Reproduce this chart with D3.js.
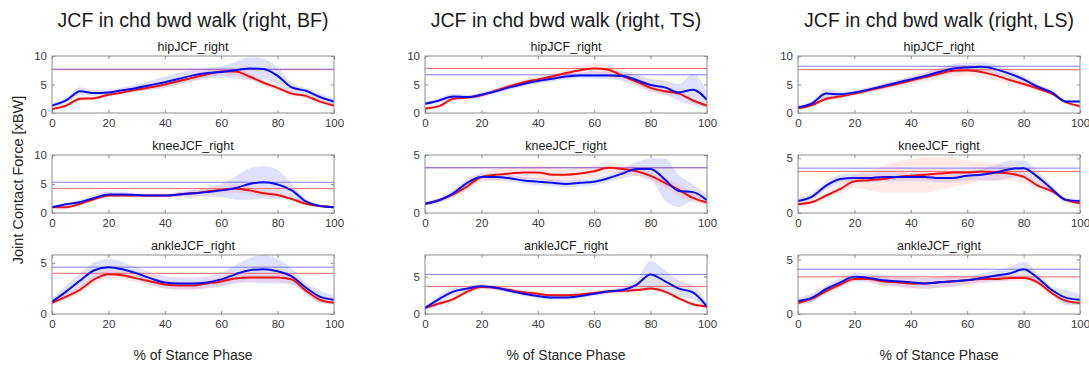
<!DOCTYPE html>
<html>
<head>
<meta charset="utf-8">
<script src="https://cdn.jsdelivr.net/npm/d3@7"></script>
<style>
body{margin:0;background:#fff;}
svg{display:block;font-family:"Liberation Sans",Arial,sans-serif;}
</style>
</head>
<body>
<svg id="chart" width="1089" height="367"></svg>
<script>
// ---------- DATA ----------
const stance = [0,5,10,15,20,25,30,35,40,45,50,55,60,65,70,75,80,85,90,95,100];
const xTicks = [0,20,40,60,80,100];
const conditions = ["BF","TS","LS"];
const joints = ["hipJCF_right","kneeJCF_right","ankleJCF_right"];

// BF
const bfHipBlue   = [1.3,2.2,3.8,3.5,3.6,4.0,4.4,4.9,5.4,6.0,6.6,7.0,7.2,7.5,7.8,7.7,6.5,4.5,3.9,2.8,2.0];
const bfHipBlueSd = [0.4,0.5,0.7,0.5,0.4,0.5,0.6,0.8,1.0,1.0,1.0,0.9,1.0,1.5,2.0,1.8,1.5,0.8,0.5,0.6,0.5];
const bfHipRed    = [0.7,1.3,2.5,2.6,3.2,3.6,4.1,4.5,5.0,5.6,6.2,6.8,7.3,7.3,6.4,5.3,4.4,3.4,3.0,2.0,1.3];
const bfHipRedSd  = [0.3,0.4,0.4,0.3,0.3,0.3,0.4,0.4,0.5,0.6,0.6,0.6,0.7,0.7,0.6,0.5,0.5,0.4,0.4,0.4,0.3];
const bfKneeBlue   = [1.0,1.5,1.9,2.6,3.2,3.2,3.1,3.0,3.0,3.2,3.4,3.6,3.9,4.3,5.0,5.3,4.9,3.9,2.0,1.2,1.0];
const bfKneeBlueSd = [0.2,0.3,0.4,0.5,0.5,0.4,0.3,0.3,0.3,0.4,0.6,0.8,1.2,2.0,2.7,2.8,2.5,1.2,0.4,0.2,0.2];
const bfKneeRed    = [1.0,1.0,1.6,2.4,3.0,3.0,3.0,3.0,3.0,3.2,3.4,3.7,4.0,4.2,3.9,3.4,3.1,2.4,1.6,1.2,1.0];
const bfKneeRedSd  = [0.2,0.3,0.3,0.3,0.3,0.3,0.3,0.3,0.3,0.4,0.5,0.6,0.7,0.7,0.6,0.5,0.4,0.4,0.3,0.2,0.2];
const bfAnkleBlue   = [1.2,2.2,3.3,4.3,4.6,4.4,4.0,3.5,3.1,3.0,3.0,3.1,3.4,3.9,4.3,4.4,4.2,3.7,2.6,1.7,1.4];
const bfAnkleBlueSd = [0.3,0.6,0.7,0.8,0.8,0.7,0.6,0.6,0.6,0.6,0.6,0.6,0.7,0.9,1.2,1.4,1.2,0.8,0.5,0.6,0.4];
const bfAnkleRed    = [1.1,1.7,2.4,3.4,3.9,3.8,3.5,3.2,2.9,2.8,2.8,3.0,3.2,3.5,3.6,3.6,3.6,3.4,2.3,1.4,1.1];
const bfAnkleRedSd  = [0.2,0.3,0.4,0.4,0.4,0.4,0.4,0.4,0.4,0.4,0.4,0.4,0.4,0.4,0.4,0.4,0.4,0.4,0.4,0.3,0.2];
// TS
const tsHipBlue   = [1.6,2.2,2.9,2.8,3.2,3.8,4.5,5.1,5.6,6.0,6.4,6.6,6.6,6.6,6.5,5.8,4.9,4.5,3.6,4.1,2.3];
const tsHipBlueSd = [0.4,0.4,0.5,0.4,0.4,0.4,0.4,0.4,0.4,0.5,0.5,0.5,0.6,0.7,0.8,0.9,1.1,1.2,1.5,2.8,1.5];
const tsHipRed    = [0.8,1.2,2.5,2.7,3.1,3.9,4.7,5.4,5.9,6.4,7.0,7.5,7.8,7.6,6.5,5.5,4.4,3.8,3.4,2.2,1.3];
const tsHipRedSd  = [0.3,0.3,0.4,0.4,0.4,0.5,0.5,0.5,0.6,0.6,0.7,0.8,0.9,0.9,0.9,0.8,0.7,0.6,0.5,0.4,0.3];
const tsKneeBlue   = [0.8,1.1,1.7,2.6,3.1,3.1,3.0,2.8,2.7,2.6,2.5,2.6,2.7,3.0,3.4,3.8,3.8,2.9,1.9,1.8,1.1];
const tsKneeBlueSd = [0.2,0.2,0.3,0.3,0.3,0.3,0.3,0.3,0.3,0.3,0.3,0.3,0.3,0.3,0.4,0.6,0.9,1.8,1.4,0.7,0.4];
const tsKneeRed    = [0.8,1.1,1.6,2.3,3.1,3.3,3.4,3.5,3.5,3.3,3.3,3.4,3.6,3.9,3.8,3.6,3.2,2.6,2.0,1.3,0.9];
const tsKneeRedSd  = [0.2,0.2,0.3,0.4,0.4,0.5,0.5,0.6,0.6,0.6,0.5,0.5,0.5,0.5,0.4,0.4,0.4,0.4,0.5,0.4,0.2];
const tsAnkleBlue   = [0.8,2.0,3.0,3.4,3.7,3.5,3.1,2.7,2.4,2.2,2.2,2.4,2.7,3.0,3.2,3.9,5.3,4.4,3.4,2.9,1.0];
const tsAnkleBlueSd = [0.3,0.5,0.5,0.4,0.3,0.3,0.3,0.3,0.3,0.3,0.3,0.3,0.3,0.3,0.4,0.7,1.8,1.5,1.1,1.0,0.4];
const tsAnkleRed    = [0.8,1.4,2.0,3.0,3.6,3.5,3.2,2.9,2.7,2.5,2.5,2.6,2.8,3.0,3.1,3.2,3.4,3.0,2.1,1.3,1.0];
const tsAnkleRedSd  = [0.2,0.3,0.3,0.3,0.3,0.3,0.3,0.3,0.3,0.3,0.3,0.3,0.3,0.3,0.3,0.3,0.3,0.3,0.3,0.3,0.2];
// LS
const lsHipBlue   = [1.0,1.7,3.4,3.3,3.6,4.1,4.7,5.3,5.9,6.5,7.2,7.8,8.0,8.1,7.7,6.9,5.9,4.6,3.6,2.0,2.0];
const lsHipBlueSd = [0.3,0.4,0.8,0.5,0.4,0.4,0.4,0.5,0.5,0.6,0.7,0.8,0.8,0.8,0.8,0.7,0.6,0.5,0.4,0.3,0.3];
const lsHipRed    = [0.8,1.4,2.5,2.9,3.4,4.0,4.5,5.1,5.7,6.3,6.9,7.4,7.5,7.2,6.6,5.8,5.1,4.3,3.4,1.9,1.2];
const lsHipRedSd  = [0.2,0.3,0.4,0.4,0.4,0.5,0.5,0.6,0.7,0.8,0.9,0.9,0.9,0.9,0.8,0.7,0.6,0.5,0.4,0.3,0.2];
const lsKneeBlue   = [1.1,1.5,2.5,3.1,3.2,3.2,3.3,3.3,3.3,3.3,3.2,3.2,3.4,3.5,3.7,4.0,4.1,3.3,2.2,1.2,1.1];
const lsKneeBlueSd = [0.3,0.3,0.4,0.4,0.4,0.4,0.4,0.4,0.4,0.4,0.4,0.4,0.4,0.5,0.7,0.8,0.7,0.5,0.3,0.2,0.2];
const lsKneeRed    = [0.8,1.0,1.6,2.2,2.9,3.0,3.1,3.3,3.4,3.5,3.6,3.7,3.7,3.8,3.7,3.6,3.3,2.5,2.0,1.2,0.9];
const lsKneeRedSd  = [0.2,0.2,0.3,0.4,0.6,0.9,1.2,1.4,1.5,1.6,1.5,1.3,1.1,0.9,0.8,0.6,0.5,0.4,0.3,0.2,0.2];
const lsAnkleBlue   = [1.2,1.5,2.3,2.9,3.4,3.3,3.1,3.0,2.9,2.8,2.9,3.0,3.1,3.3,3.5,3.7,4.1,3.3,2.2,1.5,1.3];
const lsAnkleBlueSd = [0.3,0.4,0.3,0.4,0.4,0.4,0.5,0.5,0.5,0.5,0.5,0.5,0.4,0.4,0.5,0.6,0.7,0.5,0.3,0.7,0.5];
const lsAnkleRed    = [1.0,1.4,2.1,2.7,3.2,3.2,3.0,2.9,2.8,2.8,2.9,3.0,3.1,3.2,3.2,3.3,3.3,2.9,1.9,1.2,1.0];
const lsAnkleRedSd  = [0.2,0.3,0.3,0.3,0.3,0.3,0.4,0.4,0.5,0.5,0.5,0.5,0.4,0.4,0.3,0.3,0.3,0.3,0.3,0.2,0.2];

// reference (peak) lines [blue, red] and y-axis upper limits per panel
const bfRefBlue = [7.7,5.3,4.6], bfRefRed = [7.6,4.2,4.0];
const tsRefBlue = [6.7,3.9,5.3], tsRefRed = [7.8,3.9,3.7];
const lsRefBlue = [8.2,4.1,4.1], lsRefRed = [7.6,3.8,3.4];
const bfYMax = [10,10,5.8], tsYMax = [10,5,7.9], lsYMax = [10,5.3,5.4];
const yTicksTen = [0,5,10], yTicksFive = [0,5];

// ---------- LAYOUT ----------
const svg = d3.select("#chart");
const colX = [[52,334],[425,707],[798,1080]];
const rowY = [[56,113],[155,213],[255,314]];
const BLUE = "#0a0af0", RED = "#ee1010";
const fmt = d3.format("d");

const panels = {
  BF:{blue:[bfHipBlue,bfKneeBlue,bfAnkleBlue],blueSd:[bfHipBlueSd,bfKneeBlueSd,bfAnkleBlueSd],
      red:[bfHipRed,bfKneeRed,bfAnkleRed],redSd:[bfHipRedSd,bfKneeRedSd,bfAnkleRedSd],
      refB:bfRefBlue,refR:bfRefRed,ymax:bfYMax},
  TS:{blue:[tsHipBlue,tsKneeBlue,tsAnkleBlue],blueSd:[tsHipBlueSd,tsKneeBlueSd,tsAnkleBlueSd],
      red:[tsHipRed,tsKneeRed,tsAnkleRed],redSd:[tsHipRedSd,tsKneeRedSd,tsAnkleRedSd],
      refB:tsRefBlue,refR:tsRefRed,ymax:tsYMax},
  LS:{blue:[lsHipBlue,lsKneeBlue,lsAnkleBlue],blueSd:[lsHipBlueSd,lsKneeBlueSd,lsAnkleBlueSd],
      red:[lsHipRed,lsKneeRed,lsAnkleRed],redSd:[lsHipRedSd,lsKneeRedSd,lsAnkleRedSd],
      refB:lsRefBlue,refR:lsRefRed,ymax:lsYMax}
};

conditions.forEach((cond, ci) => {
  const P = panels[cond];
  const [x0, x1] = colX[ci];
  const x = d3.scaleLinear().domain([0,100]).range([x0,x1]);

  svg.append("text").attr("x",(x0+x1)/2).attr("y",27).attr("text-anchor","middle")
    .attr("font-size",19.5).attr("fill","#1a1a1a").text(`JCF in chd bwd walk (right, ${cond})`);

  svg.append("text").attr("x",(x0+x1)/2).attr("y",360).attr("text-anchor","middle")
    .attr("font-size",14).attr("fill","#262626").text("% of Stance Phase");

  joints.forEach((jn, ri) => {
    const [yt, yb] = rowY[ri];
    const y = d3.scaleLinear().domain([0,P.ymax[ri]]).range([yb,yt]);
    const g = svg.append("g");
    const clipId = `clip-${ci}-${ri}`;
    g.append("clipPath").attr("id",clipId).append("rect")
      .attr("x",x0).attr("y",yt).attr("width",x1-x0).attr("height",yb-yt);
    const plot = g.append("g").attr("clip-path",`url(#${clipId})`);

    const mk = (mean, sd) => stance.map((s,i)=>({s, m:mean[i], lo:mean[i]-sd[i], hi:mean[i]+sd[i]}));
    const bd = mk(P.blue[ri], P.blueSd[ri]);
    const rd = mk(P.red[ri], P.redSd[ri]);
    const area = d3.area().x(d=>x(d.s)).y0(d=>y(Math.max(0,d.lo))).y1(d=>y(d.hi)).curve(d3.curveMonotoneX);
    const line = d3.line().x(d=>x(d.s)).y(d=>y(d.m)).curve(d3.curveMonotoneX);

    plot.append("path").datum(bd).attr("d",area).attr("fill","#6f78f0").attr("fill-opacity",0.22);
    plot.append("path").datum(rd).attr("d",area).attr("fill","#ff8a8a").attr("fill-opacity",0.2);

    plot.append("line").attr("x1",x0).attr("x2",x1).attr("y1",y(P.refR[ri])).attr("y2",y(P.refR[ri]))
      .attr("stroke","#ff6a6a").attr("stroke-width",1);
    plot.append("line").attr("x1",x0).attr("x2",x1).attr("y1",y(P.refB[ri])).attr("y2",y(P.refB[ri]))
      .attr("stroke","#6a6aff").attr("stroke-width",1).attr("stroke-opacity",0.85);

    plot.append("path").datum(rd).attr("d",line).attr("fill","none").attr("stroke",RED).attr("stroke-width",2);
    plot.append("path").datum(bd).attr("d",line).attr("fill","none").attr("stroke",BLUE).attr("stroke-width",2);

    // box
    g.append("rect").attr("x",x0).attr("y",yt).attr("width",x1-x0).attr("height",yb-yt)
      .attr("fill","none").attr("stroke","#8c8c8c").attr("stroke-width",1);

    // axes with inward ticks
    const yT = P.ymax[ri] >= 10 ? yTicksTen : yTicksFive;
    const xb = g.append("g").attr("transform",`translate(0,${yb})`)
      .call(d3.axisBottom(x).tickValues(xTicks).tickFormat(fmt).tickSizeInner(-3).tickSizeOuter(0).tickPadding(6));
    const xt = g.append("g").attr("transform",`translate(0,${yt})`)
      .call(d3.axisTop(x).tickValues(xTicks).tickSizeInner(-3).tickSizeOuter(0).tickFormat(""));
    const yl = g.append("g").attr("transform",`translate(${x0},0)`)
      .call(d3.axisLeft(y).tickValues(yT).tickFormat(fmt).tickSizeInner(-3).tickSizeOuter(0).tickPadding(5));
    const yr = g.append("g").attr("transform",`translate(${x1},0)`)
      .call(d3.axisRight(y).tickValues(yT).tickSizeInner(-3).tickSizeOuter(0).tickFormat(""));
    [xb,xt,yl,yr].forEach(a=>{
      a.select(".domain").remove();
      a.selectAll(".tick line").attr("stroke","#8c8c8c");
      a.selectAll("text").attr("font-size",11.5).attr("fill","#3a3a3a")
        .attr("font-family","'Liberation Sans',Arial,sans-serif");
    });

    svg.append("text").attr("x",(x0+x1)/2).attr("y",yt-5).attr("text-anchor","middle")
      .attr("font-size",12.5).attr("fill","#1a1a1a").text(jn);
  });
});

svg.append("text").attr("transform","translate(23,180) rotate(-90)").attr("text-anchor","middle")
  .attr("font-size",14.5).attr("fill","#262626").text("Joint Contact Force [xBW]");
</script>
</body>
</html>
